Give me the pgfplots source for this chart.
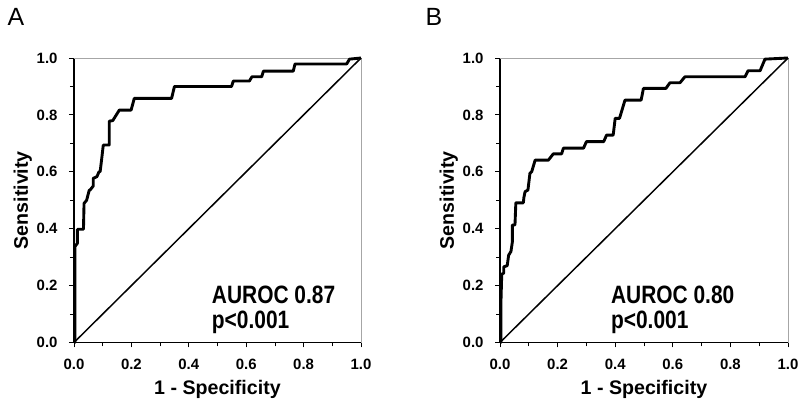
\documentclass[border=0pt]{standalone}
\usepackage{graphicx}
\usepackage{pgfplots}
\pgfplotsset{compat=1.18}
\usepackage{fontspec}
\setmainfont{Liberation Sans}
\begin{document}
\begin{tikzpicture}
\useasboundingbox (0bp,0bp) rectangle (800bp,404bp);
\pgfplotsset{rocax/.style={
  scale only axis, width=287bp, height=284.5bp,
  xmin=0, xmax=1, ymin=0, ymax=1,
  axis lines=left, axis line style={-, line width=1.2pt, black},
  tick align=outside,
  xtick={0,0.2,0.4,0.6,0.8,1}, ytick={0,0.2,0.4,0.6,0.8,1},
  minor tick num=1,
  major tick length=5bp, minor tick length=4bp,
  every tick/.style={line width=0.8pt, black},
  /pgf/number format/fixed, /pgf/number format/fixed zerofill,
  /pgf/number format/precision=1, /pgf/number format/assume math mode=true,
  xticklabel={\fontsize{15}{15}\selectfont\bfseries\pgfmathprintnumber{\tick}},
  yticklabel={\fontsize{15}{15}\selectfont\bfseries\pgfmathprintnumber{\tick}},
  xticklabel style={yshift=-8bp},
  yticklabel style={xshift=-8bp},
  xlabel={\bfseries 1 - Specificity}, ylabel={\bfseries Sensitivity},
  label style={font=\bfseries\fontsize{19.7}{20}\selectfont},
  xlabel style={yshift=-4bp},
  ylabel style={yshift=-2bp},
  clip=false,
}}
% Panel A
\begin{axis}[rocax, at={(74bp,61.5bp)}, anchor=south west]
\draw[gray!70, line width=0.8pt] (axis cs:0,1) -- (axis cs:1,1) -- (axis cs:1,0);
\addplot[black, line width=1.5pt] coordinates {(0,0) (1,1)};
\addplot[black, line width=2.9pt, line join=round] coordinates {
(0,0)(0.003,0)(0.003,0.337)(0.012,0.349)(0.012,0.398)(0.033,0.398)(0.035,0.489)(0.044,0.50)(0.053,0.535)(0.056,0.536)(0.067,0.55)(0.067,0.577)(0.08,0.583)(0.087,0.60)(0.091,0.60)(0.096,0.641)(0.102,0.694)(0.123,0.694)(0.123,0.778)(0.135,0.78)(0.158,0.817)(0.199,0.817)(0.21,0.858)(0.34,0.858)(0.35,0.90)(0.549,0.90)(0.555,0.919)(0.611,0.919)(0.62,0.934)(0.654,0.934)(0.66,0.954)(0.764,0.954)(0.77,0.979)(0.95,0.979)(0.96,0.996)(1,1)};
\node[anchor=base west, inner sep=0pt, font=\bfseries\fontsize{21}{21}\selectfont] at (axis cs:0.48,0.138) {\scalebox{1}[1.2]{AUROC 0.87}};
\node[anchor=base west, inner sep=0pt, font=\bfseries\fontsize{21}{21}\selectfont] at (axis cs:0.48,0.05) {\scalebox{1}[1.2]{p<0.001}};
\end{axis}
% Panel B
\begin{axis}[rocax, at={(500bp,61.5bp)}, anchor=south west, width=288bp]
\draw[gray!70, line width=0.8pt] (axis cs:0,1) -- (axis cs:1,1) -- (axis cs:1,0);
\addplot[black, line width=1.5pt] coordinates {(0,0) (1,1)};
\addplot[black, line width=2.9pt, line join=round] coordinates {
(0,0)(0.003,0)(0.003,0.132)(0.006,0.24)(0.013,0.244)(0.013,0.266)(0.025,0.27)(0.03,0.307)(0.038,0.32)(0.043,0.354)(0.043,0.413)(0.052,0.413)(0.055,0.491)(0.058,0.491)(0.081,0.491)(0.083,0.51)(0.087,0.53)(0.097,0.536)(0.104,0.595)(0.11,0.60)(0.122,0.641)(0.168,0.641)(0.185,0.663)(0.214,0.663)(0.22,0.683)(0.29,0.683)(0.30,0.706)(0.36,0.706)(0.37,0.729)(0.393,0.729)(0.40,0.788)(0.415,0.788)(0.434,0.852)(0.49,0.852)(0.498,0.893)(0.576,0.893)(0.59,0.913)(0.625,0.913)(0.642,0.934)(0.851,0.934)(0.861,0.955)(0.903,0.955)(0.92,0.996)(1,1)};
\node[anchor=base west, inner sep=0pt, font=\bfseries\fontsize{21}{21}\selectfont] at (axis cs:0.385,0.138) {\scalebox{1}[1.2]{AUROC 0.80}};
\node[anchor=base west, inner sep=0pt, font=\bfseries\fontsize{21}{21}\selectfont] at (axis cs:0.385,0.05) {\scalebox{1}[1.2]{p<0.001}};
\end{axis}
\node[font=\fontsize{25}{25}\selectfont] at (16bp,387bp) {A};
\node[font=\fontsize{25}{25}\selectfont] at (434bp,387bp) {B};
\end{tikzpicture}
\end{document}
